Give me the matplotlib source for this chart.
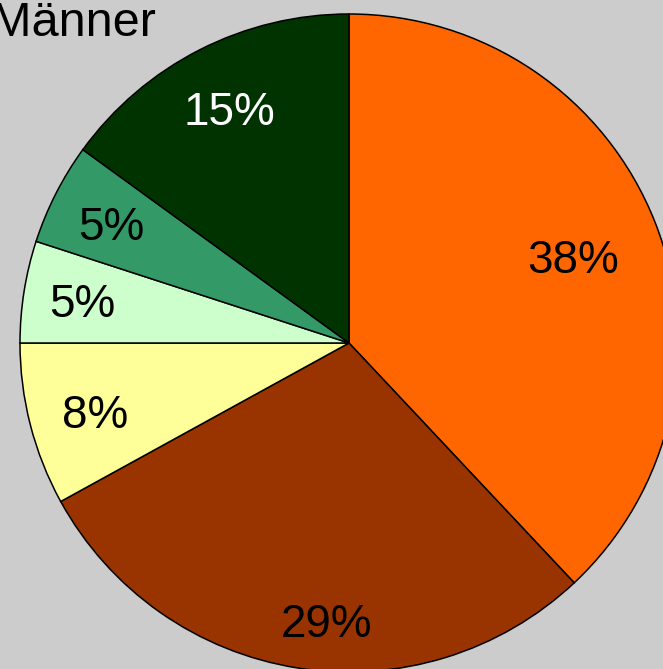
import numpy as np
import matplotlib.pyplot as plt

plt.rcParams['font.family'] = ['Liberation Sans', 'DejaVu Sans']

title = "Männer"
shares = [38, 29, 8, 5, 5, 15]
colors = ["#FF6600", "#993300", "#FFFF99", "#CCFFCC", "#339966", "#003300"]
text_colors = ["black", "black", "black", "black", "black", "white"]
label_dist = [0.73, 0.845, 0.80, 0.82, 0.81, 0.80]
label_turn = [-0.5, 4.3, 0.6, 0, 0.3, 0]


def main():
    fig = plt.figure(figsize=(6.63, 6.69), dpi=100, facecolor="#CCCCCC")
    ax = fig.add_axes([20 / 663, -3 / 669, 658 / 663, 658 / 669])
    ax.set_facecolor("#CCCCCC")

    wedges, _ = ax.pie(shares, colors=colors, startangle=90, counterclock=False,
                       radius=1.0, wedgeprops=dict(edgecolor="black", linewidth=1.1))
    for w, s, c, d, t in zip(wedges, shares, text_colors, label_dist, label_turn):
        mid = np.deg2rad((w.theta1 + w.theta2) / 2 + t)
        ax.text(d * np.cos(mid), d * np.sin(mid) - 0.05, f"{s}%", color=c,
                fontsize=33, ha="center", va="baseline")

    ax.set_xlim(-1, 1)
    ax.set_ylim(-1, 1)
    ax.axis("off")

    fig.text(156 / 663, (669 - 36) / 669, title, fontsize=35, ha="right",
             va="baseline")

    fig.savefig("out.png", dpi=100, facecolor=fig.get_facecolor())


if __name__ == "__main__":
    main()
